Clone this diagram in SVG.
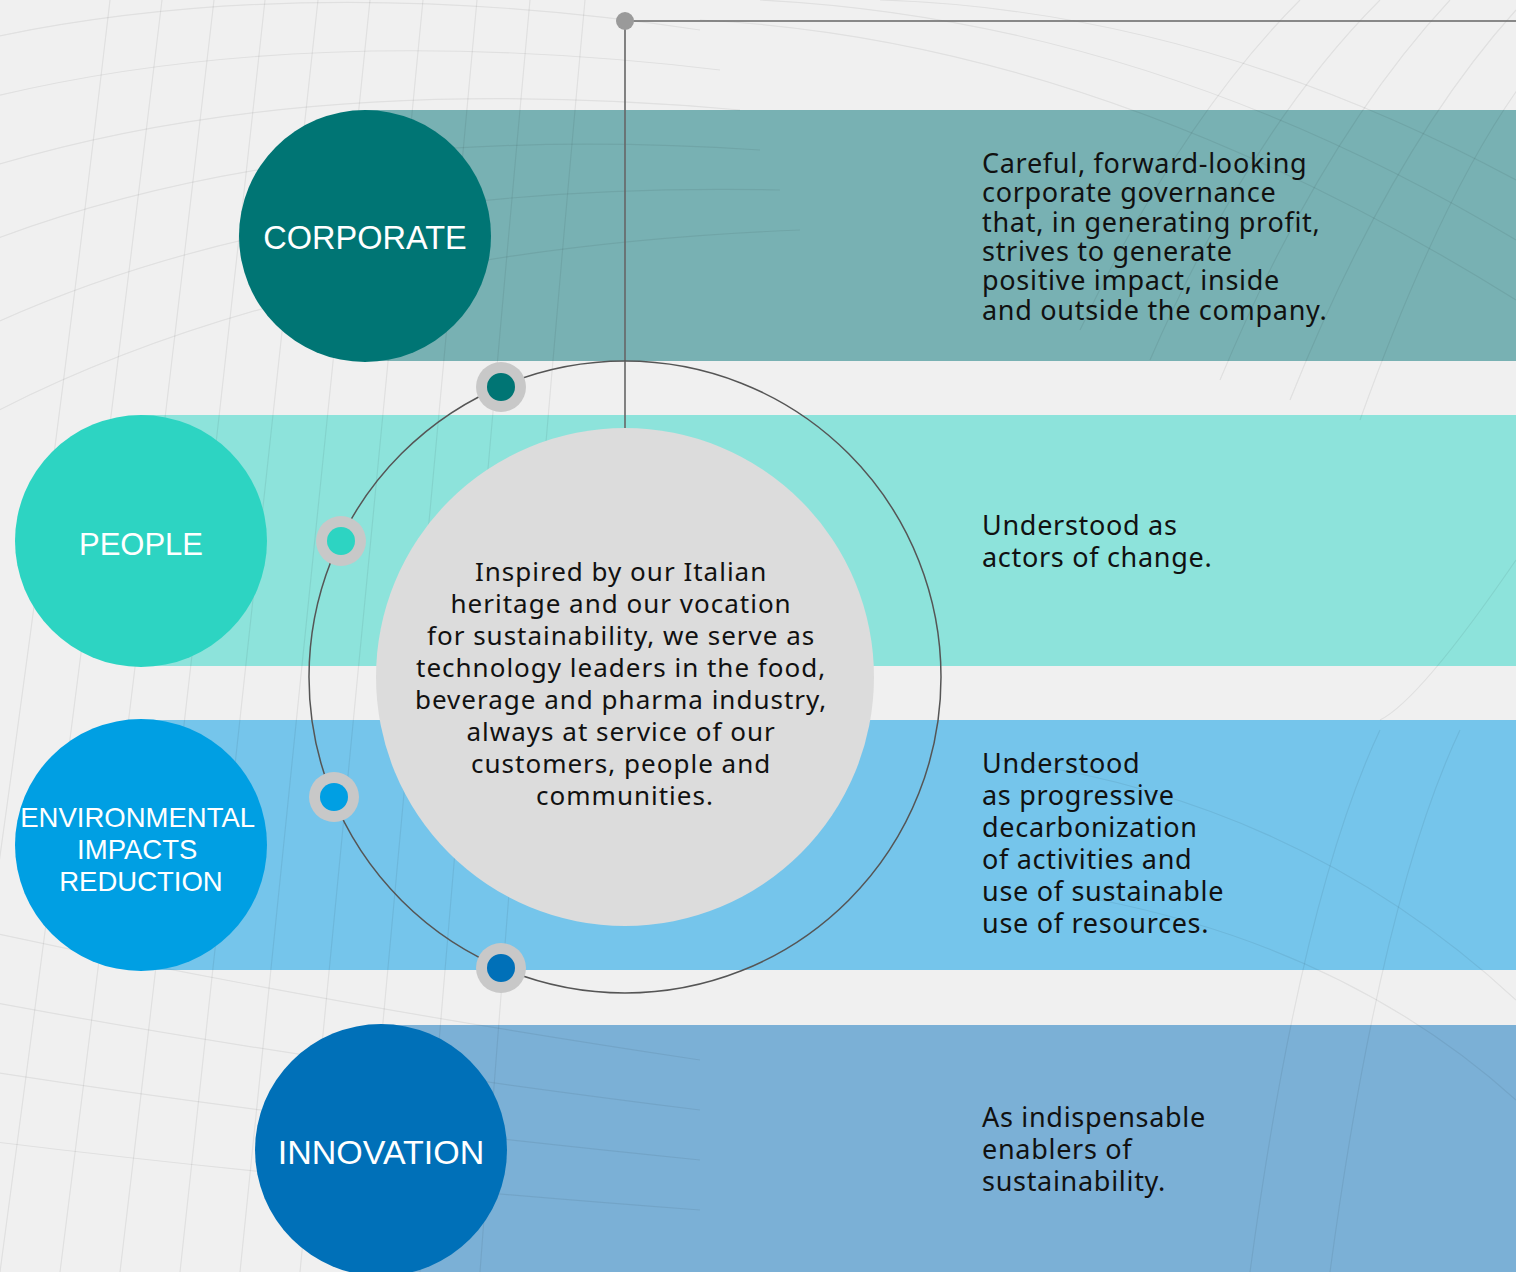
<svg xmlns="http://www.w3.org/2000/svg" width="1516" height="1272" viewBox="0 0 1516 1272">
<defs>
<style>
.bg{fill:#f0f0f0}
.grid path{fill:none;stroke:#000;stroke-opacity:0.065;stroke-width:1.2}
.lbl{font-family:"Liberation Sans",Arial,sans-serif;fill:#ffffff;text-anchor:middle}
.desc{font-family:"Noto Sans","Liberation Sans",Arial,sans-serif;fill:#111;font-size:27px;letter-spacing:0.7px}
.ctr{font-family:"Noto Sans","Liberation Sans",Arial,sans-serif;fill:#111;font-size:26px;letter-spacing:1px;text-anchor:middle}
.halo{fill:#c8c8c8}
.conn{fill:none;stroke:#666;stroke-width:1.6}
</style>
</defs>
<rect class="bg" x="0" y="0" width="1516" height="1272"/>

<!-- bands -->
<g id="bands">
<rect x="365" y="110" width="1151" height="251" fill="#78b1b3"/>
<rect x="141" y="415" width="1375" height="251" fill="#8de3db"/>
<rect x="141" y="720" width="1375" height="250" fill="#75c5eb"/>
<rect x="381" y="1025" width="1135" height="247" fill="#7bb0d6"/>
</g>

<!-- background grid -->
<g class="grid">
<path d="M110 0 Q40 600 -60 1272"/>
<path d="M162 0 Q90 600 0 1272"/>
<path d="M214 0 Q145 600 60 1272"/>
<path d="M265 0 Q200 600 120 1272"/>
<path d="M318 0 Q255 600 180 1272"/>
<path d="M370 0 Q310 600 240 1272"/>
<path d="M423 0 Q365 600 300 1272"/>
<path d="M477 0 Q420 600 360 1272"/>
<path d="M530 0 Q475 600 420 1272"/>
<path d="M585 0 Q530 600 480 1272"/>
<path d="M-20 40 Q300 -30 700 30"/>
<path d="M-20 100 Q300 20 720 70"/>
<path d="M-20 170 Q300 70 740 110"/>
<path d="M-20 245 Q300 120 760 150"/>
<path d="M-20 330 Q300 180 780 190"/>
<path d="M-20 420 Q300 250 800 230"/>
<path d="M-20 930 Q300 1000 700 1060"/>
<path d="M-20 1000 Q300 1060 700 1110"/>
<path d="M-20 1070 Q300 1120 700 1160"/>
<path d="M-20 1140 Q300 1180 700 1210"/>
<path d="M1300 0 Q1180 120 1080 330"/>
<path d="M1380 0 Q1250 130 1150 360"/>
<path d="M1450 0 Q1320 140 1220 380"/>
<path d="M1516 10 Q1390 150 1290 400"/>
<path d="M1540 60 Q1450 170 1360 420"/>
<path d="M700 20 Q1100 40 1516 300"/>
<path d="M760 0 Q1150 20 1516 240"/>
<path d="M880 0 Q1200 10 1516 180"/>
<path d="M1516 560 Q1420 700 1380 720"/>
<path d="M1000 760 Q1300 800 1516 1000"/>
<path d="M1100 900 Q1350 950 1516 1100"/>
<path d="M1380 730 Q1300 900 1250 1272"/>
<path d="M1460 730 Q1380 900 1330 1272"/>
</g>

<!-- connectors -->
<g id="connectors">
<line class="conn" x1="625" y1="21" x2="1516" y2="21"/>
<line class="conn" x1="625" y1="21" x2="625" y2="428"/>
<circle cx="625" cy="677" r="316" fill="none" stroke="#555" stroke-width="1.5"/>
</g>
<circle cx="625" cy="21" r="9" fill="#9a9a9a"/>

<!-- center node -->
<g id="center">
<circle cx="625" cy="677" r="249" fill="#dcdcdc"/>
<text class="ctr">
<tspan x="625" y="581">Inspired by our Italian</tspan>
<tspan x="625" y="613">heritage and our vocation</tspan>
<tspan x="625" y="645">for sustainability, we serve as</tspan>
<tspan x="625" y="677">technology leaders in the food,</tspan>
<tspan x="625" y="709">beverage and pharma industry,</tspan>
<tspan x="625" y="741">always at service of our</tspan>
<tspan x="625" y="773">customers, people and</tspan>
<tspan x="625" y="805">communities.</tspan>
</text>
</g>

<!-- ring markers -->
<g id="marker-corporate"><circle class="halo" cx="501" cy="387" r="25"/><circle cx="501" cy="387" r="14" fill="#007574"/></g>
<g id="marker-people"><circle class="halo" cx="341" cy="541" r="25"/><circle cx="341" cy="541" r="14" fill="#2dd4c2"/></g>
<g id="marker-env"><circle class="halo" cx="334" cy="797" r="25"/><circle cx="334" cy="797" r="14" fill="#009fe3"/></g>
<g id="marker-innovation"><circle class="halo" cx="501" cy="968" r="25"/><circle cx="501" cy="968" r="14" fill="#0070b8"/></g>

<!-- nodes -->
<g id="corporate">
<circle cx="365" cy="236" r="126" fill="#007574"/>
<text class="lbl" x="365" y="249" font-size="32.5">CORPORATE</text>
<text class="desc">
<tspan x="982" y="173">Careful, forward-looking</tspan>
<tspan x="982" y="202">corporate governance</tspan>
<tspan x="982" y="232">that, in generating profit,</tspan>
<tspan x="982" y="261">strives to generate</tspan>
<tspan x="982" y="290">positive impact, inside</tspan>
<tspan x="982" y="320">and outside the company.</tspan>
</text>
</g>

<g id="people">
<circle cx="141" cy="541" r="126" fill="#2dd4c2"/>
<text class="lbl" x="141" y="555" font-size="31">PEOPLE</text>
<text class="desc">
<tspan x="982" y="535">Understood as</tspan>
<tspan x="982" y="567">actors of change.</tspan>
</text>
</g>

<g id="environmental">
<circle cx="141" cy="845" r="126" fill="#009fe3"/>
<text class="lbl" font-size="27.5">
<tspan x="141" y="827">ENVIRONMENTAL</tspan>
<tspan x="141" y="859">IMPACTS</tspan>
<tspan x="141" y="891">REDUCTION</tspan>
</text>
<text class="desc">
<tspan x="982" y="773">Understood</tspan>
<tspan x="982" y="805">as progressive</tspan>
<tspan x="982" y="837">decarbonization</tspan>
<tspan x="982" y="869">of activities and</tspan>
<tspan x="982" y="901">use of sustainable</tspan>
<tspan x="982" y="933">use of resources.</tspan>
</text>
</g>

<g id="innovation">
<circle cx="381" cy="1150" r="126" fill="#0070b8"/>
<text class="lbl" x="381" y="1164" font-size="34">INNOVATION</text>
<text class="desc">
<tspan x="982" y="1127">As indispensable</tspan>
<tspan x="982" y="1159">enablers of</tspan>
<tspan x="982" y="1191">sustainability.</tspan>
</text>
</g>
</svg>
